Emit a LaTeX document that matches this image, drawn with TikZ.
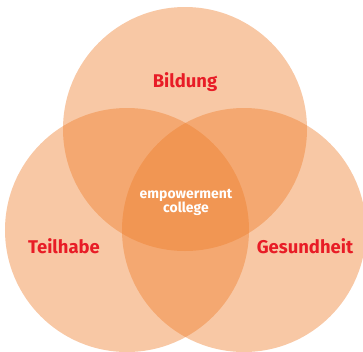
\documentclass[tikz,border=0pt]{standalone}
\usepackage{fontspec}
\setmainfont{Fira Sans}
\definecolor{venn}{RGB}{238,124,41}
\definecolor{labelred}{RGB}{232,28,38}
\tikzset{
  ring/.style = {fill = venn, fill opacity = 0.42},
  area/.style = {font = \bfseries\fontsize{18.5}{22}\selectfont, text = labelred},
  core/.style = {font = \bfseries\fontsize{14}{14}\selectfont, text = white, align = center}
}
\begin{document}
\begin{tikzpicture}[x = 1bp, y = -1bp]
                \useasboundingbox (0, 0) rectangle (363, 352);
                \fill[ring] (185, 129) circle[radius = 122bp];
                \fill[ring] (127, 230) circle[radius = 122bp];
                \fill[ring] (244, 230) circle[radius = 122bp];
                \node[area] (bildung) at (185, 82) {Bildung};
                \node[area] (teilhabe) at (64, 246) {Teilhabe};
                \node[area] (gesundheit) at (305, 246) {Gesundheit};
                \node[core, inner sep = 0] (college) at (186, 202.5) {empowerment\\college};
            \end{tikzpicture}
\end{document}
